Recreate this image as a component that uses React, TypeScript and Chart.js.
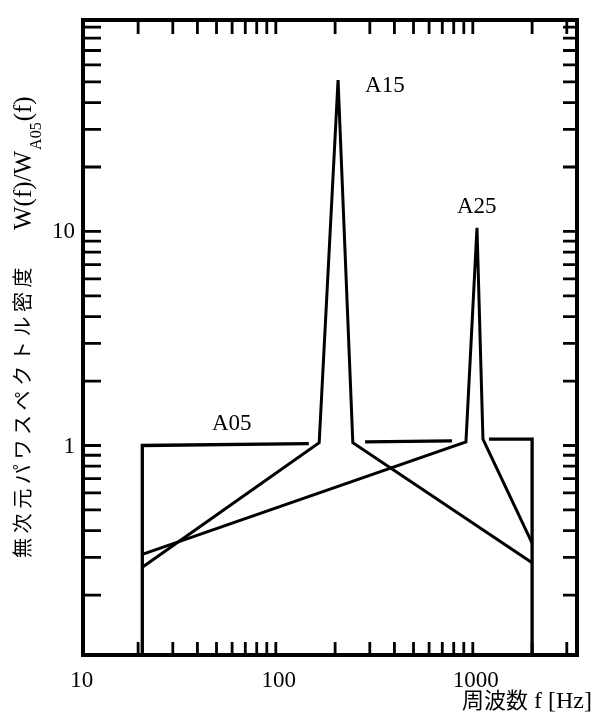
import React, { useEffect, useRef } from "react";
import { Chart, registerables } from "chart.js";

Chart.register(...registerables);

// ---- data ----
const A05_X = [21, 21, 147, null, 284, 784, null, 1208, 2000, 2000];
const A05_Y = [0.105, 1.0, 1.02, null, 1.04, 1.05, null, 1.07, 1.07, 0.105];
const A15_X = [21, 166, 207, 246, 2000];
const A15_Y = [0.27, 1.03, 51, 1.03, 0.283];
const A25_X = [21, 923, 1050, 1126, 2000];
const A25_Y = [0.31, 1.04, 10.4, 1.07, 0.35];

const SERIES_NAMES = ["A05", "A15", "A25"];
const LABEL_X = [47.4, 284, 831];
const LABEL_Y = [1.18, 44.9, 12.2];

const X_MIN = 10.5;
const X_MAX = 3380;
const Y_MIN = 0.105;
const Y_MAX = 97.2;

const X_TICKS = [20, 30, 40, 50, 60, 70, 80, 90, 100, 200, 300, 400, 500, 600, 700, 800, 900, 1000, 2000, 3000];
const Y_TICKS = [0.2, 0.3, 0.4, 0.5, 0.6, 0.7, 0.8, 0.9, 1, 2, 3, 4, 5, 6, 7, 8, 9, 10, 20, 30, 40, 50, 60, 70, 80, 90];
const X_LABEL_VALUES = [10, 100, 1000];
const X_LABEL_TEXT = ["10", "100", "1000"];
const Y_LABEL_VALUES = [1, 10];
const Y_LABEL_TEXT = ["1", "10"];

const Y_TITLE_JP = "無次元パワスペクトル密度";
const Y_TITLE_MAIN = "W(f)/W";
const Y_TITLE_SUB = "A05";
const Y_TITLE_END = "(f)";
const X_TITLE_JP = "周波数";
const X_TITLE_LATIN = " f [Hz]";

const SERIF = '"Liberation Serif", "DejaVu Serif", serif';
const CJK = '"Noto Sans CJK JP", sans-serif';

function toPoints(xs: (number | null)[], ys: (number | null)[]) {
  return xs.map((x, i) => ({ x: x === null ? (xs[i - 1] as number) * 1.01 : x, y: ys[i] }));
}

const framePlugin = {
  id: "framePlugin",
  afterDraw(chart: any) {
    const ctx = chart.ctx as CanvasRenderingContext2D;
    const xs = chart.scales.x;
    const ys = chart.scales.y;
    const { left, right, top, bottom } = chart.chartArea;
    ctx.save();
    ctx.strokeStyle = "#000";
    ctx.fillStyle = "#000";
    ctx.lineCap = "butt";

    // ticks
    ctx.lineWidth = 2.8;
    ctx.beginPath();
    for (const v of X_TICKS) {
      const p = xs.getPixelForValue(v);
      ctx.moveTo(p, bottom);
      ctx.lineTo(p, bottom - 13);
      ctx.moveTo(p, top);
      ctx.lineTo(p, top + 14);
    }
    for (const v of Y_TICKS) {
      const p = ys.getPixelForValue(v);
      ctx.moveTo(left, p);
      ctx.lineTo(left + 18, p);
      ctx.moveTo(right, p);
      ctx.lineTo(right - 14, p);
    }
    ctx.stroke();

    // frame
    ctx.lineWidth = 4;
    ctx.lineJoin = "miter";
    ctx.strokeRect(left, top, right - left, bottom - top);

    // tick labels
    ctx.font = `23px ${SERIF}`;
    ctx.textAlign = "center";
    ctx.textBaseline = "alphabetic";
    X_LABEL_VALUES.forEach((v, i) => {
      ctx.fillText(X_LABEL_TEXT[i], xs.getPixelForValue(v) + 3, bottom + 32);
    });
    ctx.textAlign = "right";
    ctx.textBaseline = "middle";
    Y_LABEL_VALUES.forEach((v, i) => {
      ctx.fillText(Y_LABEL_TEXT[i], left - 8, ys.getPixelForValue(v) + 1);
    });

    // series labels
    ctx.textAlign = "left";
    ctx.textBaseline = "alphabetic";
    ctx.font = `23px ${SERIF}`;
    SERIES_NAMES.forEach((n, i) => {
      ctx.fillText(n, xs.getPixelForValue(LABEL_X[i]), ys.getPixelForValue(LABEL_Y[i]));
    });

    // x title
    ctx.font = `24px ${SERIF}`;
    const latinW = ctx.measureText(X_TITLE_LATIN).width;
    ctx.textAlign = "right";
    ctx.fillText(X_TITLE_LATIN, 592, 708);
    ctx.font = `22px ${CJK}`;
    ctx.fillText(X_TITLE_JP, 592 - latinW, 708);

    // y title (rotated)
    ctx.translate(22, 558);
    ctx.rotate(-Math.PI / 2);
    ctx.textAlign = "left";
    ctx.textBaseline = "middle";
    ctx.font = `20px ${CJK}`;
    Array.from(Y_TITLE_JP).forEach((ch, i) => {
      ctx.fillText(ch, i * 24.6, 0);
    });
    ctx.textBaseline = "alphabetic";
    let pos = 328;
    ctx.font = `25px ${SERIF}`;
    ctx.fillText(Y_TITLE_MAIN, pos, 9);
    pos += ctx.measureText(Y_TITLE_MAIN).width + 1;
    ctx.font = `16px ${SERIF}`;
    ctx.fillText(Y_TITLE_SUB, pos, 19);
    pos += ctx.measureText(Y_TITLE_SUB).width + 1;
    ctx.font = `25px ${SERIF}`;
    ctx.fillText(Y_TITLE_END, pos, 9);

    ctx.restore();
  },
};

export default function App() {
  const ref = useRef<HTMLCanvasElement | null>(null);
  useEffect(() => {
    document.body.style.margin = "0";
    const canvas = ref.current;
    if (!canvas) return;
    const common = {
      borderColor: "#000",
      borderWidth: 3,
      pointRadius: 0,
      fill: false,
      tension: 0,
      spanGaps: false,
    };
    const chart = new Chart(canvas, {
      type: "line",
      data: {
        datasets: [
          { ...common, borderWidth: 3.3, label: SERIES_NAMES[0], data: toPoints(A05_X, A05_Y) },
          { ...common, label: SERIES_NAMES[1], data: toPoints(A15_X, A15_Y) },
          { ...common, label: SERIES_NAMES[2], data: toPoints(A25_X, A25_Y) },
        ],
      },
      options: {
        animation: false,
        responsive: false,
        parsing: false as any,
        layout: { padding: { left: 83, right: 16, top: 20, bottom: 60 } },
        plugins: { legend: { display: false }, tooltip: { enabled: false } },
        scales: {
          x: { type: "logarithmic", min: X_MIN, max: X_MAX, display: false },
          y: { type: "logarithmic", min: Y_MIN, max: Y_MAX, display: false },
        },
      },
      plugins: [framePlugin],
    });
    return () => chart.destroy();
  }, []);
  return (
    <div style={{ width: 593, height: 715, background: "#fff" }}>
      <canvas ref={ref} width={593} height={715} style={{ width: 593, height: 715, display: "block" }} />
    </div>
  );
}
